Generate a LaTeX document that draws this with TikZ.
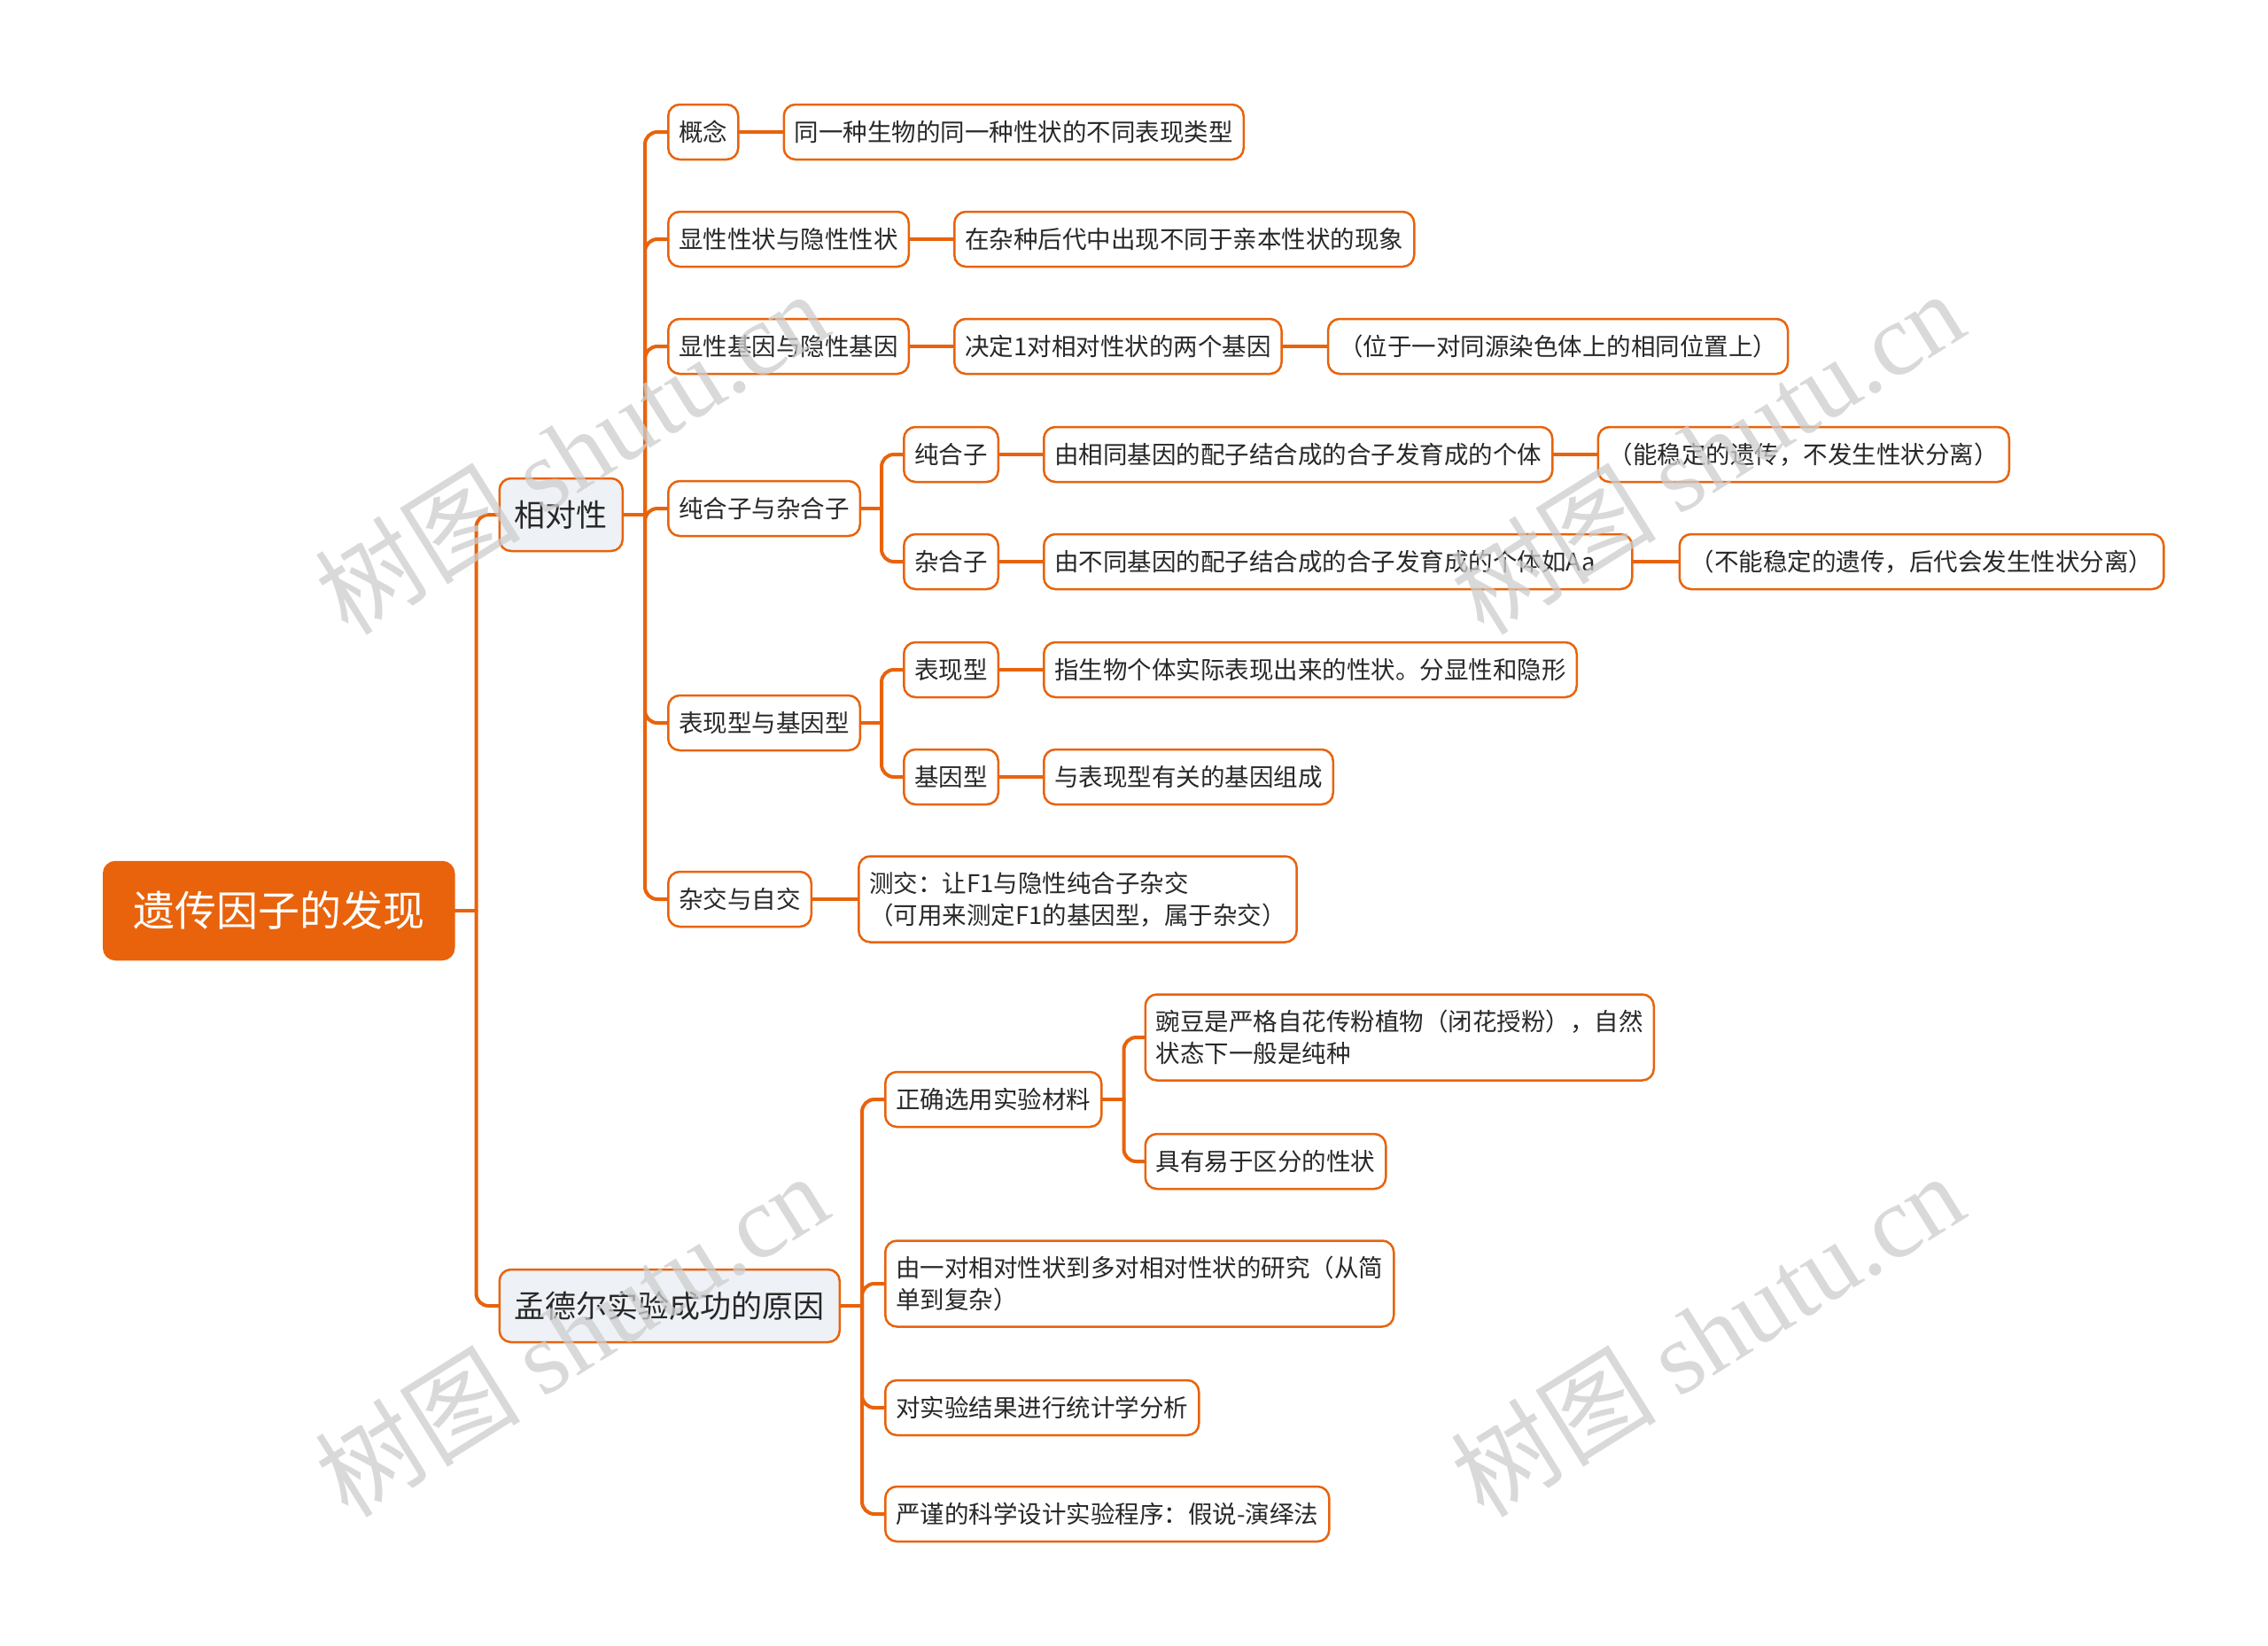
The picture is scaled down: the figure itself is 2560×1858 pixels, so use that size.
\documentclass[tikz,border=0pt]{standalone}
\usepackage{fontspec}
\setmainfont{Noto Sans CJK SC}
\newfontfamily\wmserif{Liberation Serif}
\usetikzlibrary{positioning,calc}
\definecolor{mporange}{RGB}{232,99,12}
\definecolor{mptext}{RGB}{40,40,40}
\definecolor{mpgray}{RGB}{238,241,245}
\definecolor{wmgray}{RGB}{205,205,205}
\tikzset{
  rootbox/.style={fill=mporange, draw=mporange, line width=2.5pt, rounded corners=13pt,
    text=white, font=\fontsize{47}{56}\selectfont, minimum height=110pt, inner xsep=33pt},
  lonebox/.style={fill=mpgray, draw=mporange, line width=2.5pt, rounded corners=13pt,
    text=mptext, font=\fontsize{35}{44}\selectfont, minimum height=82pt, inner xsep=17pt},
  ltwobox/.style={fill=white, draw=mporange, line width=2.5pt, rounded corners=13pt,
    text=mptext, font=\fontsize{27.5}{36}\selectfont, minimum height=62pt, inner xsep=12pt,
    align=left},
  conn/.style={draw=mporange, line width=4pt, line cap=round},
  bconn/.style={conn, rounded corners=14pt},
  wmark/.style={text=wmgray, opacity=0.75, rotate=32, font=\fontsize{116}{126}\selectfont},
}
\begin{document}
\begin{tikzpicture}[x=1pt,y=-1pt]
\useasboundingbox (0,0) rectangle (2560,1858);
\fill[white] (0,0) rectangle (2560,1858);

% root
\node[rootbox, anchor=west] (root) at (116,1028) {遗传因子的发现};
\path (root.east) ++(24,0) coordinate (rootT);

% level 1
\node[lonebox, anchor=west, xshift=25pt] (rel) at (rootT |- 0,581) {相对性};
\node[lonebox, anchor=west, xshift=25pt] (men) at (rootT |- 0,1474) {孟德尔实验成功的原因};
\path (rel.east) ++(24,0) coordinate (relT);
\path (men.east) ++(24,0) coordinate (menT);

% level 2 under rel
\node[ltwobox, anchor=west, xshift=25pt] (gn) at (relT |- 0,149) {概念};
\node[ltwobox, anchor=west, xshift=25pt] (xz) at (relT |- 0,270) {显性性状与隐性性状};
\node[ltwobox, anchor=west, xshift=25pt] (jy) at (relT |- 0,391) {显性基因与隐性基因};
\node[ltwobox, anchor=west, xshift=25pt] (chz) at (relT |- 0,574) {纯合子与杂合子};
\node[ltwobox, anchor=west, xshift=25pt] (bj) at (relT |- 0,816) {表现型与基因型};
\node[ltwobox, anchor=west, xshift=25pt] (zj) at (relT |- 0,1015) {杂交与自交};

\node[ltwobox, right=49pt of gn] (gnd) {同一种生物的同一种性状的不同表现类型};
\node[ltwobox, right=49pt of xz] (xzd) {在杂种后代中出现不同于亲本性状的现象};
\node[ltwobox, right=49pt of jy] (jyd) {决定1对相对性状的两个基因};
\node[ltwobox, right=50pt of jyd] (jyd2) {（位于一对同源染色体上的相同位置上）};

\path (chz.east) ++(23,0) coordinate (chzT);
\node[ltwobox, anchor=west, xshift=24pt] (chun) at (chzT |- 0,513) {纯合子};
\node[ltwobox, anchor=west, xshift=24pt] (za) at (chzT |- 0,634) {杂合子};
\node[ltwobox, right=49pt of chun] (chund) {由相同基因的配子结合成的合子发育成的个体};
\node[ltwobox, right=49pt of chund] (chund2) {（能稳定的遗传，不发生性状分离）};
\node[ltwobox, right=49pt of za, text width=640pt] (zad) {由不同基因的配子结合成的合子发育成的个体如Aa};
\node[ltwobox, right=51pt of zad] (zad2) {（不能稳定的遗传，后代会发生性状分离）};

\path (bj.east) ++(23,0) coordinate (bjT);
\node[ltwobox, anchor=west, xshift=24pt] (bx) at (bjT |- 0,756) {表现型};
\node[ltwobox, anchor=west, xshift=24pt] (jyx) at (bjT |- 0,877) {基因型};
\node[ltwobox, right=49pt of bx] (bxd) {指生物个体实际表现出来的性状。分显性和隐形};
\node[ltwobox, right=49pt of jyx] (jyxd) {与表现型有关的基因组成};

\node[ltwobox, right=51pt of zj, minimum height=97pt] (cj) {测交：让F1与隐性纯合子杂交\\（可用来测定F1的基因型，属于杂交）};

% level 2 under men
\node[ltwobox, anchor=west, xshift=25pt] (cl) at (menT |- 0,1241) {正确选用实验材料};
\node[ltwobox, anchor=west, xshift=25pt, minimum height=97pt] (yd) at (menT |- 0,1449) {由一对相对性状到多对相对性状的研究（从简\\单到复杂）};
\node[ltwobox, anchor=west, xshift=25pt] (tj) at (menT |- 0,1589) {对实验结果进行统计学分析};
\node[ltwobox, anchor=west, xshift=25pt] (yj) at (menT |- 0,1709) {严谨的科学设计实验程序：假说-演绎法};

\path (cl.east) ++(24,0) coordinate (clT);
\node[ltwobox, anchor=west, xshift=23pt, minimum height=97pt] (wd) at (clT |- 0,1171) {豌豆是严格自花传粉植物（闭花授粉），自然\\状态下一般是纯种};
\node[ltwobox, anchor=west, xshift=23pt] (yq) at (clT |- 0,1311) {具有易于区分的性状};

% connectors
\draw[conn] (root.east) -- (rootT);
\draw[bconn] (rootT) |- (rel.west);
\draw[bconn] (rootT) |- (men.west);

\draw[conn] (rel.east) -- (relT);
\foreach \c in {gn,xz,jy,chz,bj,zj} \draw[bconn] (relT) |- (\c.west);

\draw[conn] (gn.east) -- (gnd.west);
\draw[conn] (xz.east) -- (xzd.west);
\draw[conn] (jy.east) -- (jyd.west);
\draw[conn] (jyd.east) -- (jyd2.west);

\draw[conn] (chz.east) -- (chzT);
\draw[bconn] (chzT) |- (chun.west);
\draw[bconn] (chzT) |- (za.west);
\draw[conn] (chun.east) -- (chund.west);
\draw[conn] (chund.east) -- (chund2.west);
\draw[conn] (za.east) -- (zad.west);
\draw[conn] (zad.east) -- (zad2.west);

\draw[conn] (bj.east) -- (bjT);
\draw[bconn] (bjT) |- (bx.west);
\draw[bconn] (bjT) |- (jyx.west);
\draw[conn] (bx.east) -- (bxd.west);
\draw[conn] (jyx.east) -- (jyxd.west);

\draw[conn] (zj.east) -- (cj.west);

\draw[conn] (men.east) -- (menT);
\foreach \c in {cl,yd,tj,yj} \draw[bconn] (menT) |- (\c.west);

\draw[conn] (cl.east) -- (clT);
\draw[bconn] (clT) |- (wd.west);
\draw[bconn] (clT) |- (yq.west);

% watermarks
\node[wmark] (wm1) at (645,510) {树图 {\wmserif shutu.cn}};
\node[wmark] (wm2) at (1927,510) {树图 {\wmserif shutu.cn}};
\node[wmark] (wm3) at (645,1506) {树图 {\wmserif shutu.cn}};
\node[wmark] (wm4) at (1927,1506) {树图 {\wmserif shutu.cn}};
\end{tikzpicture}
\end{document}
